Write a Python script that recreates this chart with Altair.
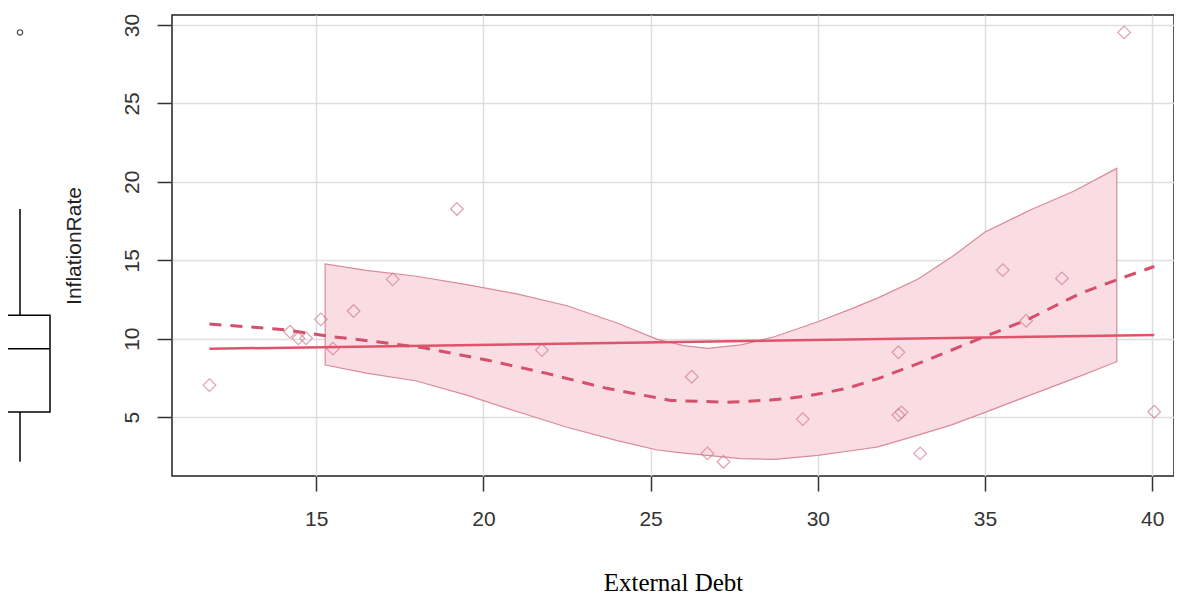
import altair as alt
import pandas as pd

# ---- data ----
external_debt = [11.81, 14.22, 14.47, 14.70, 15.14, 15.50, 16.12, 17.29, 19.21, 21.75,
                 26.23, 26.70, 27.18, 29.55, 32.41, 32.41, 32.50, 33.06, 35.53, 36.23,
                 37.30, 39.16, 40.06]
inflation_rate = [7.04, 10.44, 10.02, 10.02, 11.23, 9.36, 11.76, 13.78, 18.27, 9.27,
                  7.57, 2.68, 2.15, 4.87, 9.13, 5.13, 5.30, 2.68, 14.37, 11.14,
                  13.84, 29.53, 5.34]

smooth_x = [11.81, 13.0, 14.13, 15.32, 16.81, 18.2, 20.1, 21.8, 23.69, 25.6, 27.28,
            28.58, 29.26, 29.97, 30.87, 31.8, 32.86, 33.35, 34.86, 36.25, 37.85, 39.0, 40.06]
smooth_y = [10.93, 10.75, 10.55, 10.17, 9.8, 9.42, 8.64, 7.83, 6.83, 6.06, 5.94,
            6.08, 6.23, 6.45, 6.83, 7.45, 8.3, 8.7, 10.02, 11.19, 12.89, 13.8, 14.6]

band_x = [15.27, 16.5, 18.0, 19.5, 21.0, 22.5, 24.0, 25.2, 26.0, 26.7, 27.7, 28.7,
          30.0, 31.0, 31.8, 33.0, 34.0, 35.0, 36.35, 37.65, 38.94]
band_hi = [14.76, 14.35, 13.98, 13.45, 12.85, 12.1, 11.0, 9.95, 9.55, 9.38, 9.6, 10.12,
           11.08, 11.9, 12.6, 13.8, 15.2, 16.8, 18.2, 19.4, 20.86]
band_lo = [8.32, 7.8, 7.3, 6.4, 5.35, 4.35, 3.5, 2.9, 2.7, 2.55, 2.35, 2.3,
           2.55, 2.85, 3.1, 3.85, 4.5, 5.3, 6.4, 7.45, 8.53]

x_ticks = [15, 20, 25, 30, 35, 40]
y_ticks = [5, 10, 15, 20, 25, 30]
x_domain = [10.69, 40.65]
y_domain = [1.24, 30.64]

pts = pd.DataFrame({"ExternalDebt": external_debt, "InflationRate": inflation_rate})
sm = pd.DataFrame({"ExternalDebt": smooth_x, "InflationRate": smooth_y})
bd = pd.DataFrame({"ExternalDebt": band_x, "lo": band_lo, "hi": band_hi})

xs = alt.Scale(domain=x_domain, nice=False, zero=False)
ys = alt.Scale(domain=y_domain, nice=False, zero=False)


def X(f):
    return alt.X(f, type="quantitative", scale=xs, title="External Debt",
                 axis=alt.Axis(values=x_ticks))


def Y(f):
    return alt.Y(f, type="quantitative", scale=ys, title="InflationRate",
                 axis=alt.Axis(values=y_ticks))


LINE = "#DF536B"

band = alt.Chart(bd).mark_area(fill="#F9DDE2", stroke="#D98A9A", strokeWidth=1.2).encode(
    x=X("ExternalDebt"), y=Y("lo"), y2=alt.Y2("hi"))

points = alt.Chart(pts).mark_point(shape="diamond", size=160, filled=False,
                                   color="#D27A8E", strokeWidth=1.2).encode(
    x=X("ExternalDebt"), y=Y("InflationRate"))

reg = alt.Chart(pts).transform_regression("ExternalDebt", "InflationRate").mark_line(
    color=LINE, strokeWidth=2.5).encode(x=X("ExternalDebt"), y=Y("InflationRate"))

smooth = alt.Chart(sm).mark_line(color="#D4506B", strokeWidth=3, strokeDash=[12, 9]).encode(
    x=X("ExternalDebt"), y=Y("InflationRate"))

# ---- marginal boxplot (left) ----
bstats = alt.Chart(pts).transform_aggregate(
    q1="q1(InflationRate)", q3="q3(InflationRate)", med="median(InflationRate)")
box = bstats.mark_rect(fill="white", stroke="black", strokeWidth=1.5).encode(
    x=alt.value(-182), x2=alt.value(-122), y=Y("q1"), y2=alt.Y2("q3"))
median = bstats.mark_rule(color="black", strokeWidth=1.5).encode(
    x=alt.value(-182), x2=alt.value(-122), y=Y("med"))

wb = alt.Chart(pts).transform_joinaggregate(
    q1="q1(InflationRate)", q3="q3(InflationRate)").transform_calculate(
    lo="datum.q1 - 1.5*(datum.q3-datum.q1)", hi="datum.q3 + 1.5*(datum.q3-datum.q1)")
inl = wb.transform_filter(
    "datum.InflationRate >= datum.lo && datum.InflationRate <= datum.hi").transform_aggregate(
    wlo="min(InflationRate)", whi="max(InflationRate)", q1="min(q1)", q3="min(q3)")
wlow = inl.mark_rule(color="black", strokeWidth=1.5).encode(
    x=alt.value(-152), y=Y("wlo"), y2=alt.Y2("q1"))
whigh = inl.mark_rule(color="black", strokeWidth=1.5).encode(
    x=alt.value(-152), y=Y("q3"), y2=alt.Y2("whi"))
outl = wb.transform_filter(
    "datum.InflationRate < datum.lo || datum.InflationRate > datum.hi").mark_point(
    shape="circle", size=28, filled=False, color="black", strokeWidth=1.2).encode(
    x=alt.value(-152), y=Y("InflationRate"))

chart = alt.layer(band, points, reg, smooth, box, median, wlow, whigh, outl).properties(
    width=1002, height=461,
    padding={"left": 164, "top": 7, "right": 0, "bottom": 121},
    autosize=alt.AutoSizeParams(type="none"),
    background="white",
).configure_view(
    stroke="#222222", strokeWidth=1.5
).configure_axis(
    grid=True, gridColor="#DEDEDE", gridWidth=1.5, domain=False,
    tickColor="#333333", tickWidth=1.5, tickSize=15,
    labelColor="#333333", titleColor="#222222", titleFontWeight="normal",
    labelFont="Liberation Sans",
).configure_axisY(
    labelAngle=270, labelAlign="center", labelBaseline="bottom",
    labelFontSize=21, labelPadding=15,
    titleFont="Liberation Sans", titleFontSize=21, titlePadding=37,
).configure_axisX(
    labelFont="Liberation Sans", labelFontSize=21, labelPadding=17,
    titleFont="Liberation Serif", titleFontSize=25, titlePadding=41, titleColor="#000000",
)

chart.save("out.html", embed_options={"renderer": "svg", "actions": False})
